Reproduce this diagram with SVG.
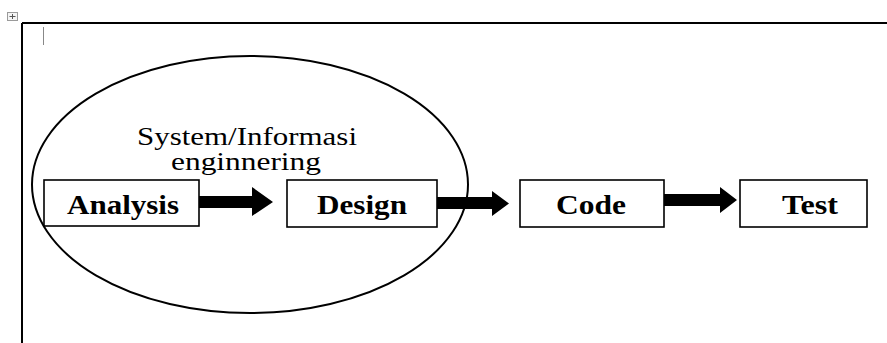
<svg xmlns="http://www.w3.org/2000/svg" width="887" height="343" viewBox="0 0 887 343">
<style>
.box{fill:#fff;stroke:#000;stroke-width:1.6}
.lbl{font-family:"Liberation Serif","Times New Roman",serif;font-weight:bold;font-size:27px;text-anchor:middle;fill:#000}
.title{font-family:"Liberation Serif","Times New Roman",serif;font-size:25px;text-anchor:middle;fill:#000}
.arrow{fill:#000}
</style>
<rect width="887" height="343" fill="#fff"/>
<g id="frame">
<rect x="7.5" y="12.5" width="10" height="8" fill="#f4f4f4" stroke="#9a9a9a" stroke-width="1"/>
<path d="M12.5 14v5M9.5 16.5h6" stroke="#555" stroke-width="1"/>
<path d="M22 23H887M22 23V343" stroke="#000" stroke-width="2" fill="none"/>
<path d="M43.5 27V45" stroke="#888" stroke-width="1"/>
</g>
<g id="scope">
<ellipse cx="250" cy="184.5" rx="218" ry="128.5" fill="none" stroke="#000" stroke-width="2"/>
<text class="title" x="247" y="145" textLength="220" lengthAdjust="spacingAndGlyphs">System/Informasi</text>
<text class="title" x="246" y="170" textLength="150" lengthAdjust="spacingAndGlyphs">enginnering</text>
</g>
<g id="connectors">
<polygon class="arrow" points="199,196 252,196 252,187 273,202 252,216 252,208 199,208"/>
<polygon class="arrow" points="434,197 492,197 492,191 509,203.5 492,216 492,209 434,209"/>
<polygon class="arrow" points="662,194 720,194 720,187 737,200 720,213 720,206 662,206"/>
</g>
<g id="analysis">
<rect class="box" x="44" y="180" width="155" height="46"/>
<text class="lbl" x="123" y="214" textLength="112" lengthAdjust="spacingAndGlyphs">Analysis</text>
</g>
<g id="design">
<rect class="box" x="287" y="180" width="150" height="47"/>
<text class="lbl" x="362" y="214" textLength="90" lengthAdjust="spacingAndGlyphs">Design</text>
</g>
<g id="code">
<rect class="box" x="520" y="180" width="144" height="47"/>
<text class="lbl" x="591" y="214" textLength="70" lengthAdjust="spacingAndGlyphs">Code</text>
</g>
<g id="test">
<rect class="box" x="740" y="180" width="127" height="47"/>
<text class="lbl" x="810" y="214" textLength="56" lengthAdjust="spacingAndGlyphs">Test</text>
</g>
</svg>
